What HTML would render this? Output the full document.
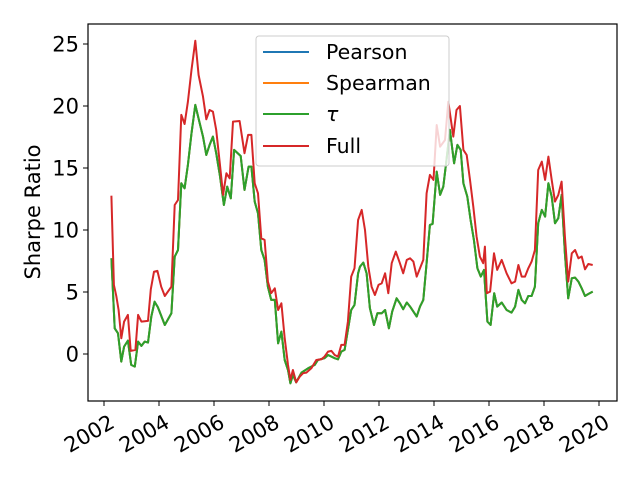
<!DOCTYPE html>
<html><head><meta charset="utf-8"><style>
body{margin:0;background:#fff;}
svg{display:block;font-family:"DejaVu Sans","Liberation Sans",sans-serif;}
</style></head><body>
<svg id="chart" width="640" height="480" viewBox="0 0 640 480" xmlns="http://www.w3.org/2000/svg">
<rect x="0" y="0" width="640" height="480" fill="#fff"/>
<g id="series"></g>
<g id="axes"></g>
<text transform="translate(40,212) rotate(-90)" text-anchor="middle" font-size="21" fill="#000">Sharpe Ratio</text>
<g>
<rect x="256" y="36" width="193" height="130" rx="3" fill="#fff" fill-opacity="0.8" stroke="#ccc"/>
<line x1="263" y1="52" x2="309" y2="52" stroke="#1f77b4" stroke-width="2"/>
<text x="326" y="59" font-size="20.5">Pearson</text>
<line x1="263" y1="83" x2="309" y2="83" stroke="#ff7f0e" stroke-width="2"/>
<text x="326" y="90" font-size="20.5">Spearman</text>
<line x1="263" y1="114" x2="309" y2="114" stroke="#2ca02c" stroke-width="2"/>
<text x="326" y="121" font-size="20.5" font-style="italic">τ</text>
<line x1="263" y1="146" x2="309" y2="146" stroke="#d62728" stroke-width="2"/>
<text x="326" y="153" font-size="20.5">Full</text>
</g>
</svg>
<script>
const fullYears=[2002.27,2002.36,2002.45,2002.53,2002.63,2002.73,2002.87,2002.97,2003.14,2003.24,2003.36,2003.6,2003.7,2003.82,2003.94,2004.08,2004.21,2004.45,2004.57,2004.69,2004.81,2004.93,2005.05,2005.18,2005.32,2005.44,2005.6,2005.72,2005.84,2005.96,2006.08,2006.21,2006.33,2006.45,2006.57,2006.69,2006.93,2007.11,2007.24,2007.36,2007.48,2007.6,2007.72,2007.84,2007.96,2008.08,2008.21,2008.33,2008.45,2008.57,2008.69,2008.78,2008.87,2008.99,2009.12,2009.24,2009.36,2009.54,2009.72,2009.9,2010.02,2010.15,2010.27,2010.39,2010.51,2010.63,2010.75,2010.87,2010.99,2011.11,2011.24,2011.37,2011.49,2011.61,2011.73,2011.85,2011.98,2012.1,2012.22,2012.34,2012.46,2012.61,2012.76,2012.88,2013.01,2013.13,2013.25,2013.37,2013.49,2013.61,2013.73,2013.85,2013.98,2014.1,2014.22,2014.4,2014.52,2014.7,2014.82,2014.94,2015.07,2015.19,2015.31,2015.43,2015.55,2015.67,2015.79,2015.85,2015.92,2016.04,2016.18,2016.3,2016.46,2016.64,2016.82,2016.95,2017.07,2017.19,2017.31,2017.43,2017.55,2017.67,2017.79,2017.92,2018.04,2018.16,2018.28,2018.4,2018.52,2018.64,2018.76,2018.88,2019.01,2019.13,2019.25,2019.37,2019.49,2019.61,2019.77];
const fullValues=[12.77,5.57,4.63,3.55,1.27,2.61,3.15,0.25,0.33,3.15,2.61,2.67,5.22,6.64,6.7,5.43,4.68,5.43,12.02,12.42,19.28,18.55,20.35,22.91,25.27,22.5,20.76,18.93,19.68,19.55,18.07,15.38,12.83,14.57,14.17,18.74,18.79,16.19,17.67,17.67,13.77,12.96,9.33,9.2,5.84,4.9,5.3,3.55,4.09,1.27,-0.88,-2.09,-1.29,-2.28,-1.82,-1.55,-1.5,-1.15,-0.48,-0.43,-0.21,0.19,0.25,-0.08,-0.21,0.73,0.73,2.61,6.24,6.91,10.81,11.62,10.0,7.05,5.43,4.76,5.57,5.7,6.51,4.9,7.32,8.26,7.32,6.51,7.59,7.72,7.45,6.24,6.91,7.59,12.96,14.44,14.04,18.47,16.72,17.26,20.35,17.53,19.68,20.0,16.46,16.05,14.04,11.89,9.47,7.85,7.32,8.66,4.9,5.03,8.12,6.78,7.59,6.51,5.7,5.84,7.18,6.24,6.24,6.91,7.45,8.39,14.84,15.52,14.04,15.92,14.04,12.29,12.83,13.9,9.47,5.84,8.12,8.39,7.72,7.86,6.83,7.26,7.18];
const tauYears=[2002.27,2002.39,2002.51,2002.63,2002.73,2002.87,2002.99,2003.12,2003.24,2003.36,2003.48,2003.6,2003.72,2003.84,2003.96,2004.21,2004.45,2004.57,2004.69,2004.81,2004.93,2005.05,2005.18,2005.32,2005.45,2005.6,2005.72,2005.84,2005.96,2006.08,2006.21,2006.36,2006.48,2006.61,2006.73,2006.97,2007.11,2007.26,2007.36,2007.48,2007.6,2007.72,2007.84,2007.96,2008.08,2008.21,2008.33,2008.45,2008.57,2008.69,2008.78,2008.87,2008.99,2009.18,2009.42,2009.66,2009.78,2010.02,2010.15,2010.39,2010.51,2010.63,2010.75,2010.87,2010.99,2011.11,2011.24,2011.31,2011.43,2011.55,2011.67,2011.82,2011.94,2012.1,2012.22,2012.36,2012.48,2012.64,2012.76,2012.88,2013.01,2013.13,2013.25,2013.37,2013.49,2013.61,2013.73,2013.85,2013.95,2014.1,2014.22,2014.34,2014.44,2014.58,2014.73,2014.85,2014.97,2015.07,2015.21,2015.33,2015.45,2015.58,2015.7,2015.82,2015.94,2016.06,2016.19,2016.3,2016.46,2016.64,2016.82,2016.95,2017.07,2017.19,2017.31,2017.43,2017.55,2017.67,2017.79,2017.92,2018.04,2018.16,2018.28,2018.4,2018.52,2018.64,2018.76,2018.88,2019.01,2019.13,2019.25,2019.37,2019.49,2019.61,2019.77];
const tauValues=[7.72,2.07,1.67,-0.61,0.6,1.08,-0.88,-1.02,1.0,0.65,1.0,0.92,3.02,4.22,3.77,2.34,3.28,7.85,8.39,13.77,13.36,15.25,17.8,20.09,18.88,17.53,16.05,16.86,17.53,16.19,14.44,12.02,13.5,12.56,16.46,15.97,13.23,15.11,15.11,12.29,11.35,8.39,7.59,5.43,4.36,4.36,0.86,1.81,-0.48,-1.29,-2.36,-1.69,-2.28,-1.5,-1.15,-0.88,-0.48,-0.34,-0.08,-0.34,-0.43,0.19,0.33,1.94,3.55,3.96,6.51,7.05,7.37,6.51,3.69,2.34,3.28,3.28,3.55,2.07,3.42,4.49,4.09,3.61,4.15,3.82,3.42,3.02,3.82,4.36,7.32,10.41,10.49,14.71,12.83,13.5,15.38,18.07,15.38,16.86,16.46,13.77,12.69,10.81,9.2,6.91,6.24,6.78,2.61,2.34,4.9,3.82,4.15,3.55,3.34,3.82,5.17,4.36,4.09,4.68,4.68,5.43,10.54,11.62,11.08,13.77,12.69,10.54,10.95,12.83,8.12,4.49,6.11,6.16,5.84,5.3,4.68,4.84,5.03];
const pearsonValues=tauValues.slice();
const spearmanValues=tauValues.slice();
const yTicks=[0,5,10,15,20,25];
const xTicks=[2002,2004,2006,2008,2010,2012,2014,2016,2018,2020];

const L=88,R=617,T=24,B=401;
function xs(yr){return 104+(yr-2002)*27.5;}
function ys(v){return 354-v*12.4;}
const NS="http://www.w3.org/2000/svg";
const sg=document.getElementById('series');
function line(years,vals,color,name){
  const p=document.createElementNS(NS,'polyline');
  p.setAttribute('points',years.map((y,i)=>xs(y).toFixed(1)+','+ys(vals[i]).toFixed(1)).join(' '));
  p.setAttribute('fill','none');p.setAttribute('stroke',color);p.setAttribute('stroke-width','2');
  p.setAttribute('stroke-linejoin','round');
  
  
  sg.appendChild(p);
}
line(tauYears,pearsonValues,'#1f77b4','pearson-line');
line(tauYears,spearmanValues,'#ff7f0e','spearman-line');
line(tauYears,tauValues,'#2ca02c','tau-line');
line(fullYears,fullValues,'#d62728','full-line');

const ag=document.getElementById('axes');
const fr=document.createElementNS(NS,'rect');
fr.setAttribute('x',L);fr.setAttribute('y',T);fr.setAttribute('width',R-L);fr.setAttribute('height',B-T);
fr.setAttribute('fill','none');fr.setAttribute('stroke','#000');fr.setAttribute('stroke-width','1.2');


ag.appendChild(fr);
yTicks.forEach(v=>{
  const y=ys(v);
  const t=document.createElementNS(NS,'line');
  t.setAttribute('x1',L-5);t.setAttribute('x2',L);t.setAttribute('y1',y);t.setAttribute('y2',y);t.setAttribute('stroke','#000');
  
  
  ag.appendChild(t);
  const tx=document.createElementNS(NS,'text');
  tx.setAttribute('x',L-9);tx.setAttribute('y',y+7.5);tx.setAttribute('text-anchor','end');tx.setAttribute('font-size','21');
  tx.textContent=v;
  
  
  ag.appendChild(tx);
});
xTicks.forEach(v=>{
  const x=xs(v);
  const t=document.createElementNS(NS,'line');
  t.setAttribute('x1',x);t.setAttribute('x2',x);t.setAttribute('y1',B);t.setAttribute('y2',B+5);t.setAttribute('stroke','#000');
  
  
  ag.appendChild(t);
  const tx=document.createElementNS(NS,'text');
  tx.setAttribute('transform','translate('+(x+3)+','+(B+10)+') rotate(-30)');
  tx.setAttribute('text-anchor','end');tx.setAttribute('font-size','21');tx.setAttribute('dy','0.85em');
  tx.textContent=v;
  
  
  ag.appendChild(tx);
});
</script>
</body></html>
